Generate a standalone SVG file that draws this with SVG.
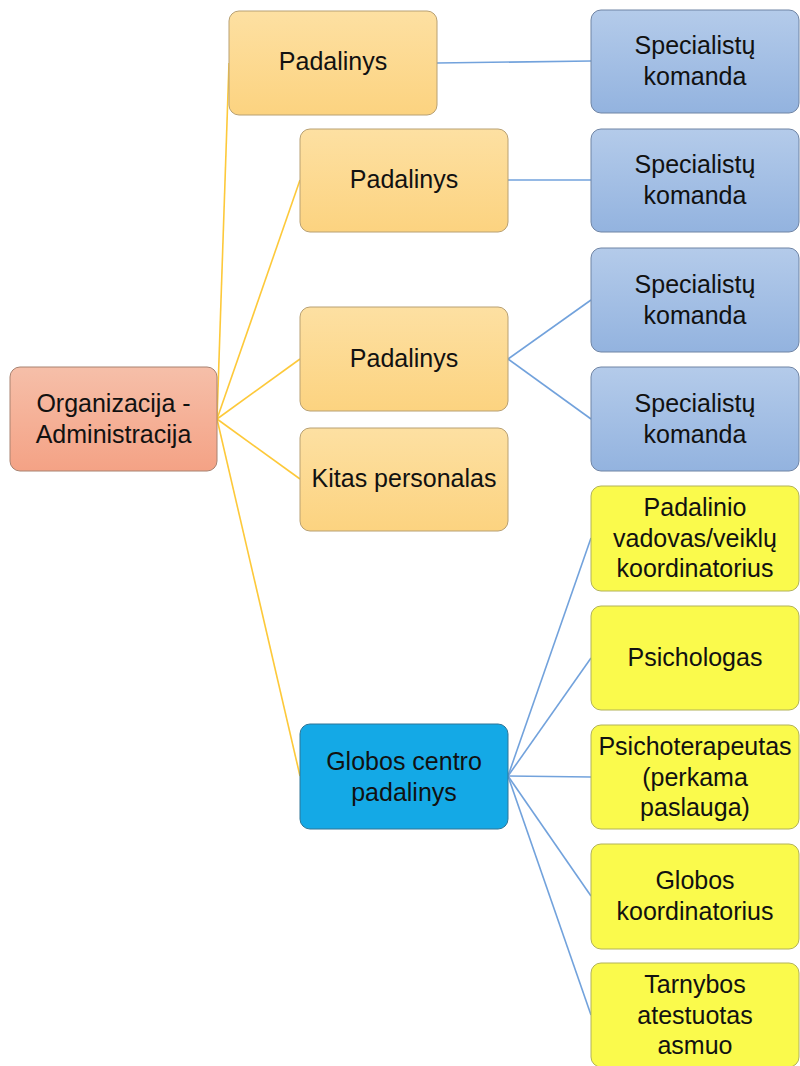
<svg xmlns="http://www.w3.org/2000/svg" width="800" height="1066" viewBox="0 0 800 1066">
<defs>
<linearGradient id="gOrg" x1="0" y1="0" x2="0" y2="1"><stop offset="0" stop-color="#f6bfa9"/><stop offset="1" stop-color="#f4a285"/></linearGradient>
<linearGradient id="gPad" x1="0" y1="0" x2="0" y2="1"><stop offset="0" stop-color="#fde0a2"/><stop offset="1" stop-color="#fcd380"/></linearGradient>
<linearGradient id="gSpec" x1="0" y1="0" x2="0" y2="1"><stop offset="0" stop-color="#b4cbea"/><stop offset="1" stop-color="#93b3df"/></linearGradient>
</defs>
<style>
text{font-family:"Liberation Sans",Arial,sans-serif;font-size:25px;fill:#111;text-anchor:middle}
.org{fill:url(#gOrg);stroke:#a88270;stroke-width:1}
.pad{fill:url(#gPad);stroke:#b8a072;stroke-width:1}
.spec{fill:url(#gSpec);stroke:#6f84a4;stroke-width:1}
.glob{fill:#14a9e6;stroke:#2e7596;stroke-width:1}
.yel{fill:#fafa4c;stroke:#b2b258;stroke-width:1}
.co{stroke:#fdc93a;stroke-width:1.6;fill:none}
.cb{stroke:#72a2dc;stroke-width:1.6;fill:none}
</style>
<g id="connectors">
<line class="co" x1="217" y1="419" x2="229" y2="63"/>
<line class="co" x1="217" y1="419" x2="300" y2="180"/>
<line class="co" x1="217" y1="419" x2="300" y2="359"/>
<line class="co" x1="217" y1="419" x2="300" y2="479"/>
<line class="co" x1="217" y1="419" x2="300" y2="776"/>
<line class="cb" x1="437" y1="63" x2="591" y2="61"/>
<line class="cb" x1="508" y1="180" x2="591" y2="180"/>
<line class="cb" x1="508" y1="359" x2="591" y2="300"/>
<line class="cb" x1="508" y1="359" x2="591" y2="419"/>
<line class="cb" x1="508" y1="776" x2="591" y2="538"/>
<line class="cb" x1="508" y1="776" x2="591" y2="658"/>
<line class="cb" x1="508" y1="776" x2="591" y2="777"/>
<line class="cb" x1="508" y1="776" x2="591" y2="896"/>
<line class="cb" x1="508" y1="776" x2="591" y2="1015"/>
</g>
<g id="org"><rect class="org" x="10" y="367" width="207" height="104" rx="10"/><text x="113.5" y="412">Organizacija -</text><text x="113.5" y="443">Administracija</text></g>
<g id="pad1"><rect class="pad" x="229" y="11" width="208" height="104" rx="10"/><text x="333" y="70">Padalinys</text></g>
<g id="pad2"><rect class="pad" x="300" y="129" width="208" height="103" rx="10"/><text x="404" y="188">Padalinys</text></g>
<g id="pad3"><rect class="pad" x="300" y="307" width="208" height="104" rx="10"/><text x="404" y="367">Padalinys</text></g>
<g id="kitas"><rect class="pad" x="300" y="428" width="208" height="103" rx="10"/><text x="404" y="487">Kitas personalas</text></g>
<g id="globos"><rect class="glob" x="300" y="724" width="208" height="105" rx="10"/><text x="404" y="770">Globos centro</text><text x="404" y="801">padalinys</text></g>
<g id="spec1"><rect class="spec" x="591" y="10" width="208" height="103" rx="10"/><text x="695" y="54">Specialistų</text><text x="695" y="85">komanda</text></g>
<g id="spec2"><rect class="spec" x="591" y="129" width="208" height="103" rx="10"/><text x="695" y="173">Specialistų</text><text x="695" y="204">komanda</text></g>
<g id="spec3"><rect class="spec" x="591" y="248" width="208" height="104" rx="10"/><text x="695" y="293">Specialistų</text><text x="695" y="324">komanda</text></g>
<g id="spec4"><rect class="spec" x="591" y="367" width="208" height="104" rx="10"/><text x="695" y="412">Specialistų</text><text x="695" y="443">komanda</text></g>
<g id="y1"><rect class="yel" x="591" y="486" width="208" height="105" rx="10"/><text x="695" y="516">Padalinio</text><text x="695" y="547">vadovas/veiklų</text><text x="695" y="577">koordinatorius</text></g>
<g id="y2"><rect class="yel" x="591" y="606" width="208" height="104" rx="10"/><text x="695" y="666">Psichologas</text></g>
<g id="y3"><rect class="yel" x="591" y="725" width="208" height="104" rx="10"/><text x="695" y="755">Psichoterapeutas</text><text x="695" y="786">(perkama</text><text x="695" y="816">paslauga)</text></g>
<g id="y4"><rect class="yel" x="591" y="844" width="208" height="105" rx="10"/><text x="695" y="889">Globos</text><text x="695" y="920">koordinatorius</text></g>
<g id="y5"><rect class="yel" x="591" y="963" width="208" height="104" rx="10"/><text x="695" y="993">Tarnybos</text><text x="695" y="1024">atestuotas</text><text x="695" y="1054">asmuo</text></g>
</svg>
